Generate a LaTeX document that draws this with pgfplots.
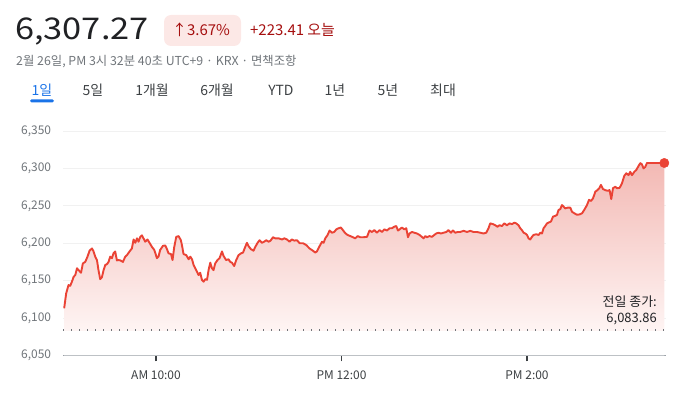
\documentclass[border=0pt]{standalone}
\usepackage{pgfplots}
\pgfplotsset{compat=1.18}
\usepackage{pgfplotstable}
\usepackage{fontspec}
\setmainfont{Noto Sans CJK KR}
\definecolor{gred}{HTML}{EA4335}
\definecolor{dred}{HTML}{A50E0E}
\definecolor{badge}{HTML}{FCE8E6}
\definecolor{gtxt}{HTML}{202124}
\definecolor{ggray}{HTML}{70757A}
\definecolor{gdark}{HTML}{3C4043}
\definecolor{gblue}{HTML}{1A73E8}
\definecolor{ggrid}{HTML}{F1F1F1}
\definecolor{gaxis}{HTML}{9AA0A6}
\definecolor{ftop}{HTML}{F3B9B4}
\definecolor{fbot}{HTML}{FEF4F3}
% vertical fade: white below the previous close, pink above it
\pgfdeclareverticalshading{pricefade}{100bp}{color(0bp)=(white); color(31.4bp)=(white); color(31.6bp)=(fbot); color(75bp)=(ftop); color(100bp)=(ftop)}

\pgfplotstableread{
t v
0.6 6113
1.9 6133
3.4 6144
4.5 6143
5.6 6148.5
6.7 6155
7.8 6157.5
8.9 6166.5
9.9 6164
11.5 6160.5
12.7 6173
14.2 6175
15.7 6182
17.0 6190
18.6 6193
19.6 6189
20.7 6182
21.8 6177.5
22.8 6164
23.9 6152
25.0 6154.5
26.1 6164
27.2 6171
28.3 6172
29.3 6175
30.4 6182
31.5 6180
32.5 6186.5
33.6 6189
34.7 6177
35.8 6177.5
36.9 6177
38.6 6175
40.1 6182
41.2 6184
42.9 6189
44.4 6193
45.5 6205
46.6 6200.5
47.7 6206.5
48.7 6202
49.8 6208.5
50.9 6210.5
51.9 6206.5
53.0 6202
54.5 6205
55.8 6200.5
57.4 6195
58.9 6191
60.6 6180
61.6 6182
62.7 6191
64.5 6196.5
66.0 6197
67.1 6192
68.1 6186.5
69.7 6185.5
70.7 6177.5
71.8 6195
73.1 6208.5
74.6 6209.5
76.1 6204
77.0 6195
77.8 6185.5
79.6 6184
81.1 6178.5
82.2 6182
83.3 6178.5
84.3 6171
86.0 6164
87.5 6157.5
88.6 6160.5
89.7 6151
90.8 6148.5
91.9 6152
93.0 6151
94.0 6164
95.1 6174
96.2 6166.5
97.2 6164
98.3 6173
99.8 6177.5
101.1 6180
102.7 6189
103.7 6183
105.3 6177.5
106.9 6178.5
108.0 6175
109.1 6174
110.6 6169.5
111.9 6177.5
113.4 6184
115.0 6186.5
116.3 6187.5
117.7 6195
118.8 6200.5
119.9 6196
121.4 6192
123.1 6190
124.2 6195
125.7 6200.5
127.0 6204
128.5 6200.5
130.0 6202
131.3 6204
132.8 6202
133.9 6203
135.7 6208
137.1 6206.5
139.3 6206.5
141.5 6205
143.0 6206.5
144.7 6205
146.4 6202
147.9 6205
149.4 6203.5
151.2 6204
152.9 6200
155.1 6200
157.2 6197.5
159.3 6193
161.5 6190
163.0 6187.5
164.1 6189
165.8 6196
167.4 6202
168.4 6200.5
169.5 6206.5
171.0 6211
172.3 6217
173.8 6214
175.3 6215
176.6 6218.5
178.1 6220
179.6 6221
180.9 6217.5
182.4 6213.5
183.9 6211
185.7 6209.5
187.4 6208
188.9 6206.5
190.4 6209.5
192.1 6208
194.3 6208
196.5 6208.5
198.1 6217
199.7 6215
201.2 6217.5
202.9 6214
204.6 6217.5
206.2 6215
207.7 6218.5
209.4 6217
211.1 6220
212.6 6220
214.1 6222
215.4 6223
216.5 6217
217.6 6218.5
219.1 6221
220.6 6218.5
221.9 6220
223.0 6208
224.0 6213
225.6 6215
227.1 6214
228.8 6213
230.5 6211
232.0 6208.5
233.1 6206.5
234.2 6209.5
235.3 6208
236.9 6209.5
238.5 6208.5
240.0 6211
241.3 6213
242.8 6214
244.3 6213
246.0 6214
247.8 6215
249.2 6217.5
250.8 6214
252.1 6217
253.6 6214
255.1 6215
256.8 6215
259.0 6216.5
261.2 6215
263.3 6216.5
265.4 6215
267.6 6215
269.8 6214
271.9 6213
273.6 6214
275.1 6220
276.2 6226.5
278.0 6225.5
279.5 6224
280.9 6222
282.2 6224
283.8 6223
285.3 6226.5
287.0 6224
288.7 6226.5
290.3 6225.5
291.8 6227.5
293.0 6226.5
294.5 6224
295.6 6220
296.7 6217.5
297.8 6214
298.9 6213
300.0 6211
301.0 6206.5
302.1 6205
303.2 6208.5
304.2 6211
306.0 6212
307.5 6211
308.6 6214
309.7 6213
310.7 6220
311.8 6223
312.9 6226.5
313.9 6227.5
315.5 6229
316.8 6235.5
318.3 6236.5
319.4 6238
320.4 6244.5
321.5 6245.5
322.6 6251
323.6 6249
324.7 6246.5
326.2 6247.5
328.0 6247.5
329.1 6242
330.6 6240
332.3 6238
334.0 6238.5
335.6 6240
337.0 6244.5
338.8 6251
340.1 6258
341.4 6256.5
342.7 6260
344.2 6269
345.6 6271
346.9 6274
347.8 6278
349.1 6272.5
350.6 6271
352.1 6270
353.4 6271
354.5 6259
355.6 6273.5
357.1 6275.5
358.2 6273.5
359.9 6274
361.4 6280
362.9 6290
364.2 6293.5
365.7 6291
366.8 6295.5
367.9 6291
369.4 6295.5
370.7 6298
372.2 6303.5
373.3 6307
374.3 6305.5
375.4 6300
376.5 6302
377.6 6307.27
388.8 6307.27
}\intraday

\begin{document}
\begin{tikzpicture}
\useasboundingbox (0bp,0bp) rectangle (698bp,393bp);
% ---------- header ----------
\node[anchor=base west, inner sep=0, text=gtxt, font=\fontsize{30}{30}\selectfont] at (15bp,353.5bp) {\scalebox{1.15}[1]{6,307.27}};
\fill[badge, rounded corners=7bp] (164bp,347bp) rectangle (241bp,378bp);
\node[anchor=base west, inner sep=0, text=dred, font=\fontsize{15}{15}\selectfont] at (172bp,357bp) {↑3.67\%};
\node[anchor=base west, inner sep=0, text=dred, font=\fontsize{15}{15}\selectfont] at (250bp,357bp) {+223.41 오늘};
\node[anchor=base west, inner sep=0, text=ggray, font=\fontsize{12.4}{12.4}\selectfont] at (16bp,327bp) {2월 26일, PM 3시 32분 40초 UTC+9 · KRX · 면책조항};
% ---------- tabs ----------
\begin{scope}[every node/.style={anchor=base, inner sep=0, font=\fontsize{14}{14}\selectfont, text=gdark}]
\node[text=gblue] at (42bp,297bp) {1일};
\node at (93bp,297bp) {5일};
\node at (152bp,297bp) {1개월};
\node at (217bp,297bp) {6개월};
\node at (281bp,297bp) {YTD};
\node at (335bp,297bp) {1년};
\node at (388bp,297bp) {5년};
\node at (443bp,297bp) {최대};
\end{scope}
\fill[gblue, rounded corners=1.5bp] (30bp,290.5bp) rectangle (54bp,293.5bp);
% ---------- chart ----------
\begin{axis}[
  at={(63.25bp,37.6bp)}, anchor=south west,
  scale only axis, width=602.9bp, height=224.4bp,
  xmin=0, xmax=390, ymin=6050, ymax=6350,
  axis lines=left, axis line style={-},
  y axis line style={draw=none},
  x axis line style={draw=gaxis, line width=1.3bp},
  xtick={60,180,300}, xticklabels={AM 10:00, PM 12:00, PM 2:00},
  xtick align=outside, major tick length=6bp,
  x tick style={draw=gdark, line width=1.6bp},
  ytick={6050,6100,6150,6200,6250,6300,6350},
  yticklabels={{6,050},{6,100},{6,150},{6,200},{6,250},{6,300},{6,350}},
  y tick style={draw=none},
  ymajorgrids, grid style={draw=ggrid, line width=1bp},
  tick label style={font=\fontsize{12}{12}\selectfont},
  yticklabel style={text=ggray, inner sep=0pt, anchor=east, xshift=-9bp},
  xticklabel style={text=gdark, inner sep=0pt, anchor=north, yshift=-9bp},
  clip=false,
]
\addplot[shading=pricefade, draw=none] table[x=t, y=v] {\intraday} \closedcycle;
\addplot[draw=ggray, line width=1.2bp, dash pattern=on 1.2bp off 6.8bp] coordinates {(0,6083.86) (388.8,6083.86)};
\addplot[draw=gred, line width=1.9bp, line join=round] table[x=t, y=v] {\intraday};
\addplot[only marks, mark=*, mark size=4.7bp, gred] coordinates {(388.8,6307.27)};
\end{axis}
\node[anchor=east, inner sep=0, text=gtxt, font=\fontsize{13}{13}\selectfont] at (657bp,91bp) {전일 종가:};
\node[anchor=east, inner sep=0, text=gtxt, font=\fontsize{13}{13}\selectfont] at (657bp,74bp) {6,083.86};
\end{tikzpicture}
\end{document}
